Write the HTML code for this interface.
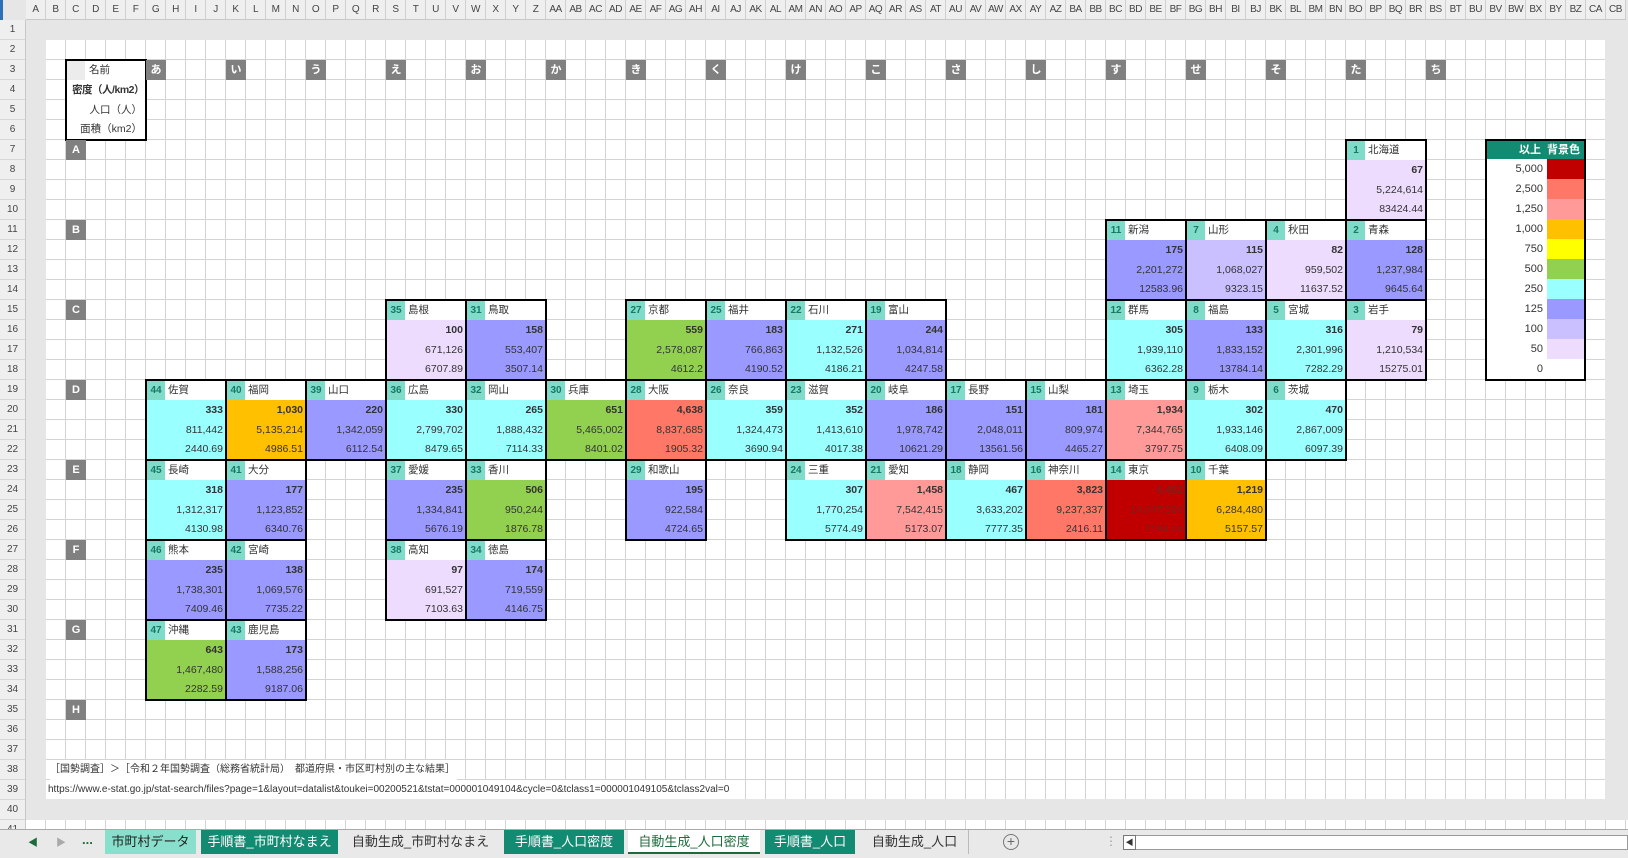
<!DOCTYPE html>
<html><head><meta charset="utf-8">
<style>
*{box-sizing:border-box}
body{margin:0;width:1628px;height:858px;overflow:hidden;position:relative;background:#e6e6e6;font-family:"Liberation Sans","Noto Sans CJK JP",sans-serif;color:#333}
.ch{position:absolute;top:0;left:26px;height:20px;display:flex;background:#efefef;border-bottom:1px solid #c8c8c8}
.ch span{width:20px;flex:none;font-size:10px;line-height:20px;text-align:center;border-right:1px solid #d0d0d0;color:#444;overflow:hidden;white-space:nowrap;letter-spacing:-0.5px}
.rh{position:absolute;left:0;top:20px;width:26px;background:#efefef;border-right:1px solid #c8c8c8}
.rh span{display:block;height:20px;line-height:20px;font-size:10px;text-align:center;border-bottom:1px solid #d8d8d8;color:#444}
.grid{position:absolute;background-color:#fff;background-image:linear-gradient(to right,transparent 19px,#d4d4d4 19px),linear-gradient(to bottom,transparent 19px,#d4d4d4 19px);background-size:20px 20px}
.lab{position:absolute;width:20px;height:20px;background:#808080;color:#fff;font-weight:bold;font-size:11px;line-height:20px;text-align:center}
.b{position:absolute;width:82px;height:82px;border:2px solid #000;background:#fff;font-size:10.5px}
.h{height:19px;line-height:19px;display:flex;background:#fff;white-space:nowrap}
.h i{font-style:normal;width:18px;flex:none;background:#80dcc8;color:#137a68;text-align:center;font-weight:bold;margin-right:3px;font-size:10px}
.v{height:59px}
.v b,.v p{display:block;margin:0;height:19.6px;line-height:20px;text-align:right;padding-right:2px}
.c0{background:#fff}.c50{background:#eddcfd}.c100{background:#cbc0ff}.c125{background:#9a99ff}.c250{background:#99ffff}.c500{background:#92d050}.c750{background:#ffff00}.c1000{background:#ffc000}.c1250{background:#ff9a99}.c2500{background:#ff7766}.c5000{background:#c00000}
.leg{position:absolute;left:1485px;top:139px;width:101px;height:242px;border:2px solid #000;background:#fff;font-size:11px;overflow:hidden}
.leg div{display:flex;height:20px}
.leg span{width:60px;text-align:right;padding-right:4px;line-height:20px}
.leg em{width:37px;display:block}
.tabs{position:absolute;left:0;top:829px;width:1628px;height:29px;background:#e9e9e9;border-top:1px solid #aaa}
.tab{position:absolute;top:0;height:24px;line-height:24px;font-size:13px;text-align:center;white-space:nowrap}
.tg{background:#138a72;color:#fff}
</style></head><body>
<div style="position:absolute;left:0;top:0;width:3px;height:829px;background:#2a6fb8"></div>
<div class="ch"><span>A</span><span>B</span><span>C</span><span>D</span><span>E</span><span>F</span><span>G</span><span>H</span><span>I</span><span>J</span><span>K</span><span>L</span><span>M</span><span>N</span><span>O</span><span>P</span><span>Q</span><span>R</span><span>S</span><span>T</span><span>U</span><span>V</span><span>W</span><span>X</span><span>Y</span><span>Z</span><span>AA</span><span>AB</span><span>AC</span><span>AD</span><span>AE</span><span>AF</span><span>AG</span><span>AH</span><span>AI</span><span>AJ</span><span>AK</span><span>AL</span><span>AM</span><span>AN</span><span>AO</span><span>AP</span><span>AQ</span><span>AR</span><span>AS</span><span>AT</span><span>AU</span><span>AV</span><span>AW</span><span>AX</span><span>AY</span><span>AZ</span><span>BA</span><span>BB</span><span>BC</span><span>BD</span><span>BE</span><span>BF</span><span>BG</span><span>BH</span><span>BI</span><span>BJ</span><span>BK</span><span>BL</span><span>BM</span><span>BN</span><span>BO</span><span>BP</span><span>BQ</span><span>BR</span><span>BS</span><span>BT</span><span>BU</span><span>BV</span><span>BW</span><span>BX</span><span>BY</span><span>BZ</span><span>CA</span><span>CB</span></div>
<div class="rh"><span>1</span><span>2</span><span>3</span><span>4</span><span>5</span><span>6</span><span>7</span><span>8</span><span>9</span><span>10</span><span>11</span><span>12</span><span>13</span><span>14</span><span>15</span><span>16</span><span>17</span><span>18</span><span>19</span><span>20</span><span>21</span><span>22</span><span>23</span><span>24</span><span>25</span><span>26</span><span>27</span><span>28</span><span>29</span><span>30</span><span>31</span><span>32</span><span>33</span><span>34</span><span>35</span><span>36</span><span>37</span><span>38</span><span>39</span><span>40</span><span>41</span></div>
<div class="grid" style="left:46px;top:40px;width:1559px;height:759px"></div>
<div class="grid" style="left:26px;top:820px;width:1602px;height:9px"></div>

<div style="position:absolute;left:65px;top:59px;width:82px;height:82px;border:2px solid #000;background:#fff;font-size:10.5px">
<div style="display:flex;height:19px;line-height:19px"><span style="width:18px;background:#ececec"></span><span style="padding-left:4px">名前</span></div>
<div style="height:20px;line-height:20px;text-align:right;font-weight:bold;padding-right:1px;white-space:nowrap;letter-spacing:-0.5px">密度（人/km2）</div>
<div style="height:20px;line-height:20px;text-align:right;padding-right:3px">人口（人）</div>
<div style="height:19px;line-height:19px;text-align:right;padding-right:3px">面積（km2）</div>
</div>

<div class="lab" style="left:146px;top:60px">あ</div><div class="lab" style="left:226px;top:60px">い</div><div class="lab" style="left:306px;top:60px">う</div><div class="lab" style="left:386px;top:60px">え</div><div class="lab" style="left:466px;top:60px">お</div><div class="lab" style="left:546px;top:60px">か</div><div class="lab" style="left:626px;top:60px">き</div><div class="lab" style="left:706px;top:60px">く</div><div class="lab" style="left:786px;top:60px">け</div><div class="lab" style="left:866px;top:60px">こ</div><div class="lab" style="left:946px;top:60px">さ</div><div class="lab" style="left:1026px;top:60px">し</div><div class="lab" style="left:1106px;top:60px">す</div><div class="lab" style="left:1186px;top:60px">せ</div><div class="lab" style="left:1266px;top:60px">そ</div><div class="lab" style="left:1346px;top:60px">た</div><div class="lab" style="left:1426px;top:60px">ち</div>
<div class="lab" style="left:66px;top:140px">A</div><div class="lab" style="left:66px;top:220px">B</div><div class="lab" style="left:66px;top:300px">C</div><div class="lab" style="left:66px;top:380px">D</div><div class="lab" style="left:66px;top:460px">E</div><div class="lab" style="left:66px;top:540px">F</div><div class="lab" style="left:66px;top:620px">G</div><div class="lab" style="left:66px;top:700px">H</div>

<div class="b" style="left:1345px;top:139px"><div class="h"><i>1</i>北海道</div><div class="v c50"><b>67</b><p>5,224,614</p><p>83424.44</p></div></div>
<div class="b" style="left:1105px;top:219px"><div class="h"><i>11</i>新潟</div><div class="v c125"><b>175</b><p>2,201,272</p><p>12583.96</p></div></div>
<div class="b" style="left:1185px;top:219px"><div class="h"><i>7</i>山形</div><div class="v c100"><b>115</b><p>1,068,027</p><p>9323.15</p></div></div>
<div class="b" style="left:1265px;top:219px"><div class="h"><i>4</i>秋田</div><div class="v c50"><b>82</b><p>959,502</p><p>11637.52</p></div></div>
<div class="b" style="left:1345px;top:219px"><div class="h"><i>2</i>青森</div><div class="v c125"><b>128</b><p>1,237,984</p><p>9645.64</p></div></div>
<div class="b" style="left:385px;top:299px"><div class="h"><i>35</i>島根</div><div class="v c50"><b>100</b><p>671,126</p><p>6707.89</p></div></div>
<div class="b" style="left:465px;top:299px"><div class="h"><i>31</i>鳥取</div><div class="v c125"><b>158</b><p>553,407</p><p>3507.14</p></div></div>
<div class="b" style="left:625px;top:299px"><div class="h"><i>27</i>京都</div><div class="v c500"><b>559</b><p>2,578,087</p><p>4612.2</p></div></div>
<div class="b" style="left:705px;top:299px"><div class="h"><i>25</i>福井</div><div class="v c125"><b>183</b><p>766,863</p><p>4190.52</p></div></div>
<div class="b" style="left:785px;top:299px"><div class="h"><i>22</i>石川</div><div class="v c250"><b>271</b><p>1,132,526</p><p>4186.21</p></div></div>
<div class="b" style="left:865px;top:299px"><div class="h"><i>19</i>富山</div><div class="v c125"><b>244</b><p>1,034,814</p><p>4247.58</p></div></div>
<div class="b" style="left:1105px;top:299px"><div class="h"><i>12</i>群馬</div><div class="v c250"><b>305</b><p>1,939,110</p><p>6362.28</p></div></div>
<div class="b" style="left:1185px;top:299px"><div class="h"><i>8</i>福島</div><div class="v c125"><b>133</b><p>1,833,152</p><p>13784.14</p></div></div>
<div class="b" style="left:1265px;top:299px"><div class="h"><i>5</i>宮城</div><div class="v c250"><b>316</b><p>2,301,996</p><p>7282.29</p></div></div>
<div class="b" style="left:1345px;top:299px"><div class="h"><i>3</i>岩手</div><div class="v c50"><b>79</b><p>1,210,534</p><p>15275.01</p></div></div>
<div class="b" style="left:145px;top:379px"><div class="h"><i>44</i>佐賀</div><div class="v c250"><b>333</b><p>811,442</p><p>2440.69</p></div></div>
<div class="b" style="left:225px;top:379px"><div class="h"><i>40</i>福岡</div><div class="v c1000"><b>1,030</b><p>5,135,214</p><p>4986.51</p></div></div>
<div class="b" style="left:305px;top:379px"><div class="h"><i>39</i>山口</div><div class="v c125"><b>220</b><p>1,342,059</p><p>6112.54</p></div></div>
<div class="b" style="left:385px;top:379px"><div class="h"><i>36</i>広島</div><div class="v c250"><b>330</b><p>2,799,702</p><p>8479.65</p></div></div>
<div class="b" style="left:465px;top:379px"><div class="h"><i>32</i>岡山</div><div class="v c250"><b>265</b><p>1,888,432</p><p>7114.33</p></div></div>
<div class="b" style="left:545px;top:379px"><div class="h"><i>30</i>兵庫</div><div class="v c500"><b>651</b><p>5,465,002</p><p>8401.02</p></div></div>
<div class="b" style="left:625px;top:379px"><div class="h"><i>28</i>大阪</div><div class="v c2500"><b>4,638</b><p>8,837,685</p><p>1905.32</p></div></div>
<div class="b" style="left:705px;top:379px"><div class="h"><i>26</i>奈良</div><div class="v c250"><b>359</b><p>1,324,473</p><p>3690.94</p></div></div>
<div class="b" style="left:785px;top:379px"><div class="h"><i>23</i>滋賀</div><div class="v c250"><b>352</b><p>1,413,610</p><p>4017.38</p></div></div>
<div class="b" style="left:865px;top:379px"><div class="h"><i>20</i>岐阜</div><div class="v c125"><b>186</b><p>1,978,742</p><p>10621.29</p></div></div>
<div class="b" style="left:945px;top:379px"><div class="h"><i>17</i>長野</div><div class="v c125"><b>151</b><p>2,048,011</p><p>13561.56</p></div></div>
<div class="b" style="left:1025px;top:379px"><div class="h"><i>15</i>山梨</div><div class="v c125"><b>181</b><p>809,974</p><p>4465.27</p></div></div>
<div class="b" style="left:1105px;top:379px"><div class="h"><i>13</i>埼玉</div><div class="v c1250"><b>1,934</b><p>7,344,765</p><p>3797.75</p></div></div>
<div class="b" style="left:1185px;top:379px"><div class="h"><i>9</i>栃木</div><div class="v c250"><b>302</b><p>1,933,146</p><p>6408.09</p></div></div>
<div class="b" style="left:1265px;top:379px"><div class="h"><i>6</i>茨城</div><div class="v c250"><b>470</b><p>2,867,009</p><p>6097.39</p></div></div>
<div class="b" style="left:145px;top:459px"><div class="h"><i>45</i>長崎</div><div class="v c250"><b>318</b><p>1,312,317</p><p>4130.98</p></div></div>
<div class="b" style="left:225px;top:459px"><div class="h"><i>41</i>大分</div><div class="v c125"><b>177</b><p>1,123,852</p><p>6340.76</p></div></div>
<div class="b" style="left:385px;top:459px"><div class="h"><i>37</i>愛媛</div><div class="v c125"><b>235</b><p>1,334,841</p><p>5676.19</p></div></div>
<div class="b" style="left:465px;top:459px"><div class="h"><i>33</i>香川</div><div class="v c500"><b>506</b><p>950,244</p><p>1876.78</p></div></div>
<div class="b" style="left:625px;top:459px"><div class="h"><i>29</i>和歌山</div><div class="v c125"><b>195</b><p>922,584</p><p>4724.65</p></div></div>
<div class="b" style="left:785px;top:459px"><div class="h"><i>24</i>三重</div><div class="v c250"><b>307</b><p>1,770,254</p><p>5774.49</p></div></div>
<div class="b" style="left:865px;top:459px"><div class="h"><i>21</i>愛知</div><div class="v c1250"><b>1,458</b><p>7,542,415</p><p>5173.07</p></div></div>
<div class="b" style="left:945px;top:459px"><div class="h"><i>18</i>静岡</div><div class="v c250"><b>467</b><p>3,633,202</p><p>7777.35</p></div></div>
<div class="b" style="left:1025px;top:459px"><div class="h"><i>16</i>神奈川</div><div class="v c2500"><b>3,823</b><p>9,237,337</p><p>2416.11</p></div></div>
<div class="b" style="left:1105px;top:459px"><div class="h"><i>14</i>東京</div><div class="v c5000" style="color:#7a2020"><b>6,402</b><p>14,047,594</p><p>2194.05</p></div></div>
<div class="b" style="left:1185px;top:459px"><div class="h"><i>10</i>千葉</div><div class="v c1000"><b>1,219</b><p>6,284,480</p><p>5157.57</p></div></div>
<div class="b" style="left:145px;top:539px"><div class="h"><i>46</i>熊本</div><div class="v c125"><b>235</b><p>1,738,301</p><p>7409.46</p></div></div>
<div class="b" style="left:225px;top:539px"><div class="h"><i>42</i>宮崎</div><div class="v c125"><b>138</b><p>1,069,576</p><p>7735.22</p></div></div>
<div class="b" style="left:385px;top:539px"><div class="h"><i>38</i>高知</div><div class="v c50"><b>97</b><p>691,527</p><p>7103.63</p></div></div>
<div class="b" style="left:465px;top:539px"><div class="h"><i>34</i>徳島</div><div class="v c125"><b>174</b><p>719,559</p><p>4146.75</p></div></div>
<div class="b" style="left:145px;top:619px"><div class="h"><i>47</i>沖縄</div><div class="v c500"><b>643</b><p>1,467,480</p><p>2282.59</p></div></div>
<div class="b" style="left:225px;top:619px"><div class="h"><i>43</i>鹿児島</div><div class="v c125"><b>173</b><p>1,588,256</p><p>9187.06</p></div></div>

<div class="leg">
<div style="background:#138a72;color:#fff;font-weight:bold;height:18px"><span style="width:56px;padding-right:2px;line-height:18px">以上</span><span style="width:41px;text-align:center;padding:0;line-height:18px">背景色</span></div>
<div><span>5,000</span><em class="c5000"></em></div>
<div><span>2,500</span><em class="c2500"></em></div>
<div><span>1,250</span><em class="c1250"></em></div>
<div><span>1,000</span><em class="c1000"></em></div>
<div><span>750</span><em class="c750"></em></div>
<div><span>500</span><em class="c500"></em></div>
<div><span>250</span><em class="c250"></em></div>
<div><span>125</span><em class="c125"></em></div>
<div><span>100</span><em class="c100"></em></div>
<div><span>50</span><em class="c50"></em></div>
<div><span>0</span><em class="c0"></em></div>
</div>

<div style="position:absolute;left:50px;top:760px;height:20px;line-height:20px;font-size:10px;white-space:nowrap;background:#fff;padding-right:2px">［国勢調査］＞［令和２年国勢調査（総務省統計局）　都道府県・市区町村別の主な結果］</div>
<div style="position:absolute;left:48px;top:780px;height:19px;line-height:19px;font-size:10px;white-space:nowrap;background:#fff">https://www.e-stat.go.jp/stat-search/files?page=1&amp;layout=datalist&amp;toukei=00200521&amp;tstat=000001049104&amp;cycle=0&amp;tclass1=000001049105&amp;tclass2val=0</div>

<div class="tabs">
<div style="position:absolute;left:28px;top:4px;font-size:10px;color:#1d6b3a">◀</div>
<div style="position:absolute;left:56px;top:4px;font-size:10px;color:#aaa">▶</div>
<div style="position:absolute;left:82px;top:2px;font-size:13px;color:#1d6b3a;font-weight:bold">...</div>
<div class="tab" style="left:105px;width:91px;background:#88e0cc;color:#222">市町村データ</div>
<div class="tab tg" style="left:201px;width:137px">手順書_市町村なまえ</div>
<div class="tab" style="left:344px;width:153px;color:#333">自動生成_市町村なまえ</div>
<div class="tab tg" style="left:504px;width:120px">手順書_人口密度</div>
<div class="tab" style="left:628px;width:132px;background:#fff;color:#1d6b3a;border-bottom:2px solid #1d6b3a">自動生成_人口密度</div>
<div class="tab tg" style="left:765px;width:90px">手順書_人口</div>
<div class="tab" style="left:861px;width:108px;color:#333;border-right:1px solid #bbb">自動生成_人口</div>
<div style="position:absolute;left:1003px;top:4px;width:16px;height:16px;border:1px solid #777;border-radius:50%;text-align:center;line-height:13px;font-size:14px;color:#666">+</div>
<div style="position:absolute;left:1105px;top:4px;font-size:12px;color:#999">⋮</div>
<div style="position:absolute;left:1123px;top:5px;width:505px;height:15px;background:#fff;border:1px solid #999"></div>
<div style="position:absolute;left:1123px;top:5px;width:13px;height:15px;border:1px solid #777;background:#fff;font-size:8px;line-height:13px;text-align:center">◀</div>
</div>
</body></html>
